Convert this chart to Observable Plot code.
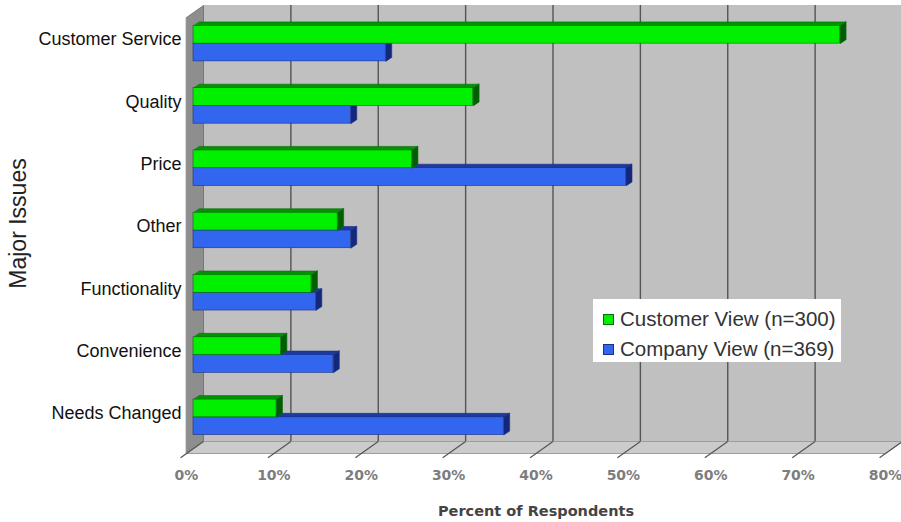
<!DOCTYPE html>
<html>
<head>
<meta charset="utf-8">
<script src="https://cdn.jsdelivr.net/npm/d3@7"></script>
<script src="https://cdn.jsdelivr.net/npm/@observablehq/plot@0.6"></script>
<style>
  html, body { margin: 0; padding: 0; background: #ffffff; }
  #chart { position: relative; width: 901px; height: 522px; }
  .legend {
    position: absolute; left: 593px; top: 299px; width: 248px; height: 63px;
    background: #ffffff; box-sizing: border-box; padding: 5px 0 0 10px;
    font-family: "Liberation Sans", Arial, sans-serif; font-size: 20.5px; color: #333;
  }
  .legend .item { display: flex; align-items: center; height: 30px; }
  .legend .swatch { width: 11px; height: 11px; margin-right: 6px; box-sizing: border-box; }
</style>
</head>
<body>
<div id="chart"></div>
<script>
// Major issues, share of respondents (%)
const categories = ["Customer Service", "Quality", "Price", "Other", "Functionality", "Convenience", "Needs Changed"];
const customerView = [74, 32, 25, 16.5, 13.5, 10, 9.5];
const companyView = [22, 18, 49.5, 18, 14, 16, 35.5];
const xTicks = [0, 10, 20, 30, 40, 50, 60, 70, 80];
const seriesLabels = ["Customer View (n=300)", "Company View (n=369)"];

// layout
const W = 901, H = 522;
const mL = 186, mR = 16, mT = 17, mB = 69;
const xMax = xTicks[xTicks.length - 1];
const n = categories.length;
const kx = (W - mL - mR) / xMax;       // px per percent
const ky = (H - mT - mB) / n;          // px per category row

// 3-D depth: walls, bar plane, bar thickness (pixels, converted to data units)
const wallDepth = [17, -12];
const barPlane = [7, -5];
const barDepth = [6, -4];
const Dx = wallDepth[0] / kx, Dy = wallDepth[1] / ky;
const bdx = barDepth[0] / kx, bdy = barDepth[1] / ky;
const halfBar = 0.285;

const series = [
  {key: "company", values: companyView, slot: 1, front: "#3366ee", top: "#1d3a9e", side: "#13287a", edge: "#1a2f8a", label: seriesLabels[1]},
  {key: "customer", values: customerView, slot: 0, front: "#00f000", top: "#009400", side: "#005f00", edge: "#0b6a0b", label: seriesLabels[0]}
];

function barsFor(s) {
  return categories.map((c, i) => {
    const mid = i + 0.5;
    const y1 = s.slot === 0 ? mid - halfBar : mid;
    const y2 = s.slot === 0 ? mid : mid + halfBar;
    return {category: c, value: s.values[i], y1, y2, id: s.key + i};
  });
}
function topFaces(bars) {
  return bars.flatMap(b => [
    {id: b.id, x: 0, y: b.y1},
    {id: b.id, x: b.value, y: b.y1},
    {id: b.id, x: b.value + bdx, y: b.y1 + bdy},
    {id: b.id, x: bdx, y: b.y1 + bdy}
  ]);
}
function sideFaces(bars) {
  return bars.flatMap(b => [
    {id: b.id, x: b.value, y: b.y1},
    {id: b.id, x: b.value, y: b.y2},
    {id: b.id, x: b.value + bdx, y: b.y2 + bdy},
    {id: b.id, x: b.value + bdx, y: b.y1 + bdy}
  ]);
}

const leftWall = [
  {x: 0, y: 0}, {x: Dx, y: Dy}, {x: Dx, y: n + Dy}, {x: 0, y: n}
];
const floor = [
  {x: 0, y: n}, {x: xMax, y: n}, {x: xMax + Dx, y: n + Dy}, {x: Dx, y: n + Dy}
];

const barMarks = series.flatMap(s => {
  const bars = barsFor(s);
  return [
    Plot.line(topFaces(bars), {x: "x", y: "y", z: "id", fill: s.top, stroke: s.edge, strokeWidth: 0.6, curve: "linear-closed", dx: barPlane[0], dy: barPlane[1]}),
    Plot.line(sideFaces(bars), {x: "x", y: "y", z: "id", fill: s.side, stroke: s.edge, strokeWidth: 0.6, curve: "linear-closed", dx: barPlane[0], dy: barPlane[1]}),
    Plot.rect(bars, {x1: () => 0, x2: "value", y1: "y1", y2: "y2", fill: s.front, stroke: s.edge, strokeWidth: 0.6, dx: barPlane[0], dy: barPlane[1]})
  ];
});

const chart = Plot.plot({
  width: W,
  height: H,
  marginLeft: mL,
  marginRight: mR,
  marginTop: mT,
  marginBottom: mB,
  style: {fontFamily: "'Liberation Sans', Arial, sans-serif", background: "#ffffff", overflow: "visible"},
  x: {domain: [0, xMax]},
  y: {domain: [0, n], reverse: true},
  marks: [
    // back wall and its gridlines
    Plot.rect([{x1: 0, x2: xMax, y1: 0, y2: n}], {x1: "x1", x2: "x2", y1: "y1", y2: "y2", fill: "#c0c0c0", dx: wallDepth[0], dy: wallDepth[1]}),
    Plot.ruleX(xTicks.slice(1), {y1: () => 0, y2: () => n, stroke: "#555", strokeWidth: 1.4, dx: wallDepth[0], dy: wallDepth[1]}),
    // side wall and floor
    Plot.line(leftWall, {x: "x", y: "y", fill: "#8e8e8e", stroke: "#6a6a6a", strokeWidth: 0.8, curve: "linear-closed"}),
    Plot.line(floor, {x: "x", y: "y", fill: "#cbcbcb", stroke: "#8a8a8a", strokeWidth: 0.8, curve: "linear-closed"}),
    Plot.link(xTicks, {x1: d => d - 0.35 * Dx, y1: () => n - 0.35 * Dy, x2: d => d + Dx, y2: () => n + Dy, stroke: "#555", strokeWidth: 1.2}),
    ...barMarks,
    // axes
    Plot.axisX(xTicks, {tickFormat: d => d + "%", tickSize: 0, tickPadding: 17, fontSize: 14, fontWeight: "bold", fontFamily: "'DejaVu Sans', Verdana, sans-serif", fill: "#7d7d7d", label: null}),
    Plot.axisY(categories.map((_, i) => i + 0.5), {tickFormat: d => categories[Math.round(d - 0.5)], tickSize: 0, tickPadding: 5, dy: -9, fontSize: 18, fill: "#111", label: null}),
    Plot.text(["Percent of Respondents"], {frameAnchor: "bottom", lineAnchor: "middle", dy: 58, fontSize: 14.5, fontWeight: "bold", fontFamily: "'DejaVu Sans', Verdana, sans-serif", fill: "#444"}),
    Plot.text(["Major Issues"], {frameAnchor: "left", lineAnchor: "middle", textAnchor: "middle", rotate: -90, dx: -168, dy: -12, fontSize: 23, fill: "#222"})
  ]
});

const root = document.getElementById("chart");
root.appendChild(chart);

// legend box over the plot area
const legend = document.createElement("div");
legend.className = "legend";
[series[1], series[0]].forEach(s => {
  const item = document.createElement("div");
  item.className = "item";
  const sw = document.createElement("span");
  sw.className = "swatch";
  sw.style.background = s.front;
  sw.style.border = "1px solid " + s.edge;
  const label = document.createElement("span");
  label.textContent = s.label;
  item.appendChild(sw);
  item.appendChild(label);
  legend.appendChild(item);
});
root.appendChild(legend);
</script>
</body>
</html>
